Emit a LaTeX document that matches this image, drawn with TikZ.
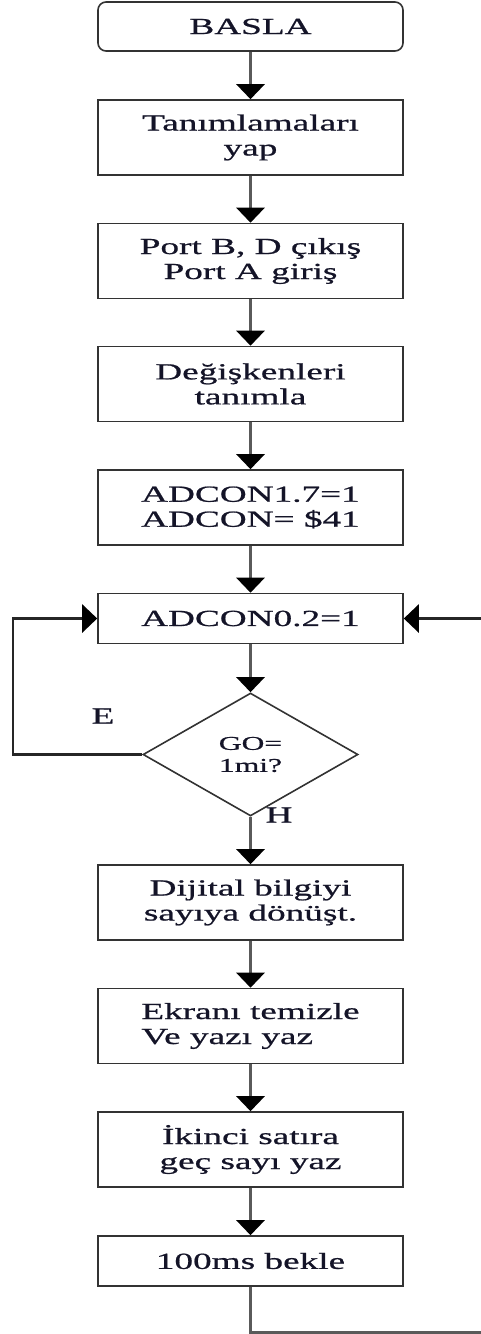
\documentclass[tikz,border=0pt]{standalone}
\usepackage{fontspec}
\setmainfont{Liberation Serif}[FakeStretch=1.62,FakeBold=0.8]
\usetikzlibrary{arrows.meta,shapes.geometric}
\definecolor{boxline}{HTML}{333333}
\definecolor{conn}{HTML}{5A5A5A}
\definecolor{txt}{HTML}{141428}
\tikzset{
  box/.style={draw=boxline, line width=1.6pt, rectangle, minimum width=305pt, inner sep=0pt, align=center, text=txt, font=\fontsize{23}{25}\selectfont},
  onebox/.style={box, minimum height=50pt},
  twobox/.style={box, minimum height=75pt},
  startbox/.style={box, rounded corners=8pt, minimum height=49pt},
  decide/.style={draw=boxline, line width=1.6pt, diamond, minimum width=215pt, minimum height=123pt, inner sep=0pt, align=center, text=txt, font=\fontsize{19.5}{22}\selectfont},
  arr/.style={draw=conn, line width=3pt, -{Triangle[width=28pt,length=15pt,color=black]}},
  looparr/.style={draw=black!85, line width=2.6pt, -{Triangle[width=28pt,length=15pt,color=black]}},
  plain/.style={draw=conn, line width=3pt},
  lbl/.style={text=txt, font=\fontsize{23}{25}\selectfont, inner sep=0pt}
}
\begin{document}
\begin{tikzpicture}[x=1pt,y=-1pt]
\useasboundingbox (0,0) rectangle (481,1334);
\node[startbox] (basla) at (250.5,26.5) {BASLA};
\node[twobox] (b1) at (250.5,137.5) {Tanımlamaları\\yap};
\node[twobox] (b2) at (250.5,261) {Port B, D çıkış\\Port A giriş};
\node[twobox] (b3) at (250.5,384) {Değişkenleri\\tanımla};
\node[twobox] (b4) at (250.5,507.5) {ADCON1.7=1\\ADCON= \$41};
\node[onebox] (b5) at (250.5,618.5) {ADCON0.2=1};
\node[decide] (d) at (250.5,754.5) {GO=\\1mi?};
\node[twobox] (b6) at (250.5,902.5) {Dijital bilgiyi\\sayıya dönüşt.};
\node[twobox, align=left] (b7) at (250.5,1026) {Ekranı temizle\\Ve yazı yaz};
\node[twobox] (b8) at (250.5,1149.5) {İkinci satıra\\geç sayı yaz};
\node[onebox] (b9) at (250.5,1261) {100ms bekle};
\node[lbl] (e) at (103,716) {E};
\node[lbl] (h) at (279,815) {H};
\coordinate (rin) at (481,618.5);
\coordinate (lc) at (13,754.5);
\coordinate (bend) at (250.5,1332);
\coordinate (rout) at (481,1332);
\draw[arr] (basla) -- (b1);
\draw[arr] (b1) -- (b2);
\draw[arr] (b2) -- (b3);
\draw[arr] (b3) -- (b4);
\draw[arr] (b4) -- (b5);
\draw[arr] (b5) -- (d);
\draw[arr] (d.south) -- (b6);
\draw[arr] (b6) -- (b7);
\draw[arr] (b7) -- (b8);
\draw[arr] (b8) -- (b9);
\draw[looparr] (d.west) -- (lc) |- (b5.west);
\draw[looparr] (rin) -- (b5.east);
\draw[plain] (b9.south) -- (bend) -- (rout);
\end{tikzpicture}
\end{document}
